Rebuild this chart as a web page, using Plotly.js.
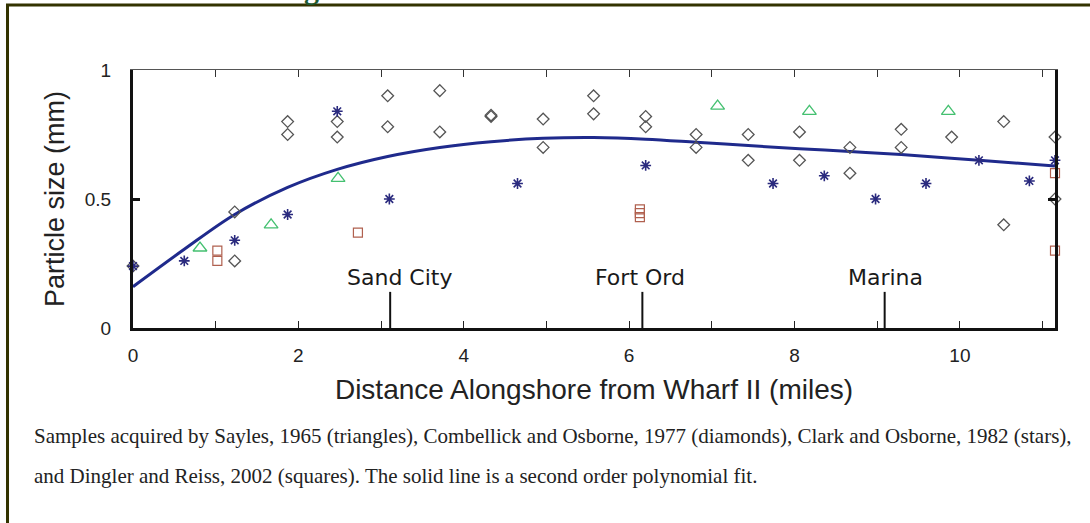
<!DOCTYPE html>
<html>
<head>
<meta charset="utf-8">
<script src="https://cdn.plot.ly/plotly-3.0.1.min.js"></script>
<style>
  html, body { margin: 0; padding: 0; background: #fff; }
  #chart { width: 1090px; height: 523px; }
</style>
</head>
<body>
<div id="chart"></div>
<script>
// ---- Data ----
// Sayles, 1965 (triangles)
const triX = [0.81, 1.67, 2.48, 7.07, 8.18, 9.86];
const triY = [0.31, 0.40, 0.58, 0.86, 0.84, 0.84];

// Combellick and Osborne, 1977 (diamonds)
const diaX = [0, 1.23, 1.23, 1.87, 1.87, 2.47, 2.47, 3.08, 3.08, 3.71, 3.71, 4.33, 4.33, 4.96, 4.96, 5.57, 5.57,
              6.20, 6.20, 6.81, 6.81, 7.44, 7.44, 8.06, 8.06, 8.67, 8.67, 9.29, 9.29, 9.90, 10.53, 10.53, 11.15, 11.15];
const diaY = [0.24, 0.45, 0.26, 0.80, 0.75, 0.80, 0.74, 0.90, 0.78, 0.92, 0.76, 0.82, 0.825, 0.81, 0.70, 0.90, 0.83,
              0.82, 0.78, 0.75, 0.70, 0.75, 0.65, 0.76, 0.65, 0.70, 0.60, 0.77, 0.70, 0.74, 0.80, 0.40, 0.74, 0.50];

// Clark and Osborne, 1982 (stars)
const starX = [0, 0.62, 1.23, 1.87, 2.47, 3.10, 4.65, 6.20, 7.74, 8.36, 8.98, 9.59, 10.23, 10.84, 11.15];
const starY = [0.24, 0.26, 0.34, 0.44, 0.84, 0.50, 0.56, 0.63, 0.56, 0.59, 0.50, 0.56, 0.65, 0.57, 0.65];

// Dingler and Reiss, 2002 (squares)
const sqX = [1.02, 1.02, 2.72, 6.13, 6.13, 6.13, 11.15, 11.15];
const sqY = [0.30, 0.26, 0.37, 0.43, 0.445, 0.46, 0.60, 0.30];

// Second order polynomial fit
const fitX = [0, 0.62, 1.23, 1.87, 2.47, 3.08, 3.71, 4.33, 4.96, 5.57, 6.20, 6.81, 7.44, 8.06, 8.67, 9.29, 10.23, 11.15];
const fitY = [0.16, 0.305, 0.44, 0.545, 0.615, 0.665, 0.70, 0.722, 0.735, 0.738, 0.732, 0.72, 0.707, 0.695, 0.684, 0.672, 0.65, 0.628];

// Landmarks along the shore
const landmarkNames = ['Sand City', 'Fort Ord', 'Marina'];
const landmarkX = [3.11, 6.16, 9.09];

// Axis ticks
const xTickVals = [0, 1, 2, 3, 4, 5, 6, 7, 8, 9, 10, 11];
const xTickText = ['0', '', '2', '', '4', '', '6', '', '8', '', '10', ''];
const yTickVals = [0, 0.5, 1];
const yTickText = ['0', '0.5', '1'];

const captionLines = [
  'Samples acquired by Sayles, 1965 (triangles), Combellick and Osborne, 1977 (diamonds), Clark and Osborne, 1982 (stars),',
  'and Dingler and Reiss, 2002 (squares). The solid line is a second order polynomial fit.'
];

// ---- Build chart ----
const SANS = 'Liberation Sans, Arial, sans-serif';

const lmLineX = [], lmLineY = [];
landmarkX.forEach(v => { lmLineX.push(v, v, null); lmLineY.push(0, 0.14, null); });

const traces = [
  { x: lmLineX, y: lmLineY, mode: 'lines', line: { color: '#111', width: 2 }, hoverinfo: 'skip', showlegend: false },
  { x: fitX, y: fitY, mode: 'lines', line: { color: '#1f2a8c', width: 3, shape: 'spline', smoothing: 1 }, showlegend: false },
  { x: diaX, y: diaY, mode: 'markers', cliponaxis: false,
    marker: { symbol: 'diamond-open', size: 9, color: '#555', line: { width: 1.3, color: '#555' } }, showlegend: false },
  { x: starX, y: starY, mode: 'markers', cliponaxis: false,
    marker: { symbol: 'asterisk-open', size: 9, color: '#2a2a7e', line: { width: 1.6, color: '#2a2a7e' } }, showlegend: false },
  { x: triX, y: triY, mode: 'markers', cliponaxis: false,
    marker: { symbol: 'triangle-up-open', size: 12, color: '#44c070', line: { width: 1.3, color: '#44c070' } }, showlegend: false },
  { x: sqX, y: sqY, mode: 'markers', cliponaxis: false,
    marker: { symbol: 'square-open', size: 9, color: '#b0604f', line: { width: 1.2, color: '#b0604f' } }, showlegend: false },
  // dummy trace to activate top axis
  { x: [0], y: [0], xaxis: 'x2', mode: 'markers', marker: { opacity: 0 }, hoverinfo: 'skip', showlegend: false }
];

const PL = 133, PR = 1055, PT = 70, PB = 328;
const pxToPaperX = px => (px - PL) / (PR - PL);
const pxToPaperY = py => (PB - py) / (PB - PT);

const annotations = [];
landmarkNames.forEach((name, i) => {
  annotations.push({
    x: landmarkX[i], y: 0.195, xref: 'x', yref: 'y', text: name, showarrow: false,
    xshift: [9, -2, 1][i],
    font: { family: 'DejaVu Sans, Verdana, sans-serif', size: 22, color: '#1a1a1a' }
  });
});
captionLines.forEach((line, i) => {
  annotations.push({
    x: pxToPaperX(32), y: pxToPaperY([436, 476][i]), xref: 'paper', yref: 'paper',
    xanchor: 'left', yanchor: 'middle', text: line, showarrow: false,
    font: { family: 'Liberation Serif, Times New Roman, serif', size: 21, color: '#222' }
  });
});
// fragment of the cut-off page heading above the frame
annotations.push({
  x: pxToPaperX(311), y: pxToPaperY(7), xref: 'paper', yref: 'paper', xanchor: 'center', yanchor: 'bottom',
  text: 'g', showarrow: false,
  font: { family: 'Liberation Serif, serif', size: 30, color: '#1e5a32', weight: 'bold' }
});

const layout = {
  width: 1090, height: 523,
  margin: { l: PL, r: 1090 - PR, t: PT, b: 523 - PB, pad: 0 },
  paper_bgcolor: '#fff', plot_bgcolor: '#fff',
  showlegend: false,
  xaxis: {
    range: [0, 11.15], tickvals: xTickVals, ticktext: xTickText,
    ticks: 'inside', ticklen: 7, tickwidth: 1, tickcolor: '#222',
    showline: true, linewidth: 3, linecolor: '#111', mirror: false,
    showgrid: false, zeroline: false, ticklabelstandoff: 8,
    tickfont: { family: SANS, size: 19, color: '#222' },
    title: { text: 'Distance Alongshore from Wharf II (miles)', standoff: 15,
             font: { family: SANS, size: 28, color: '#222' } }
  },
  xaxis2: {
    overlaying: 'x', side: 'top', range: [0, 11.15], tickvals: xTickVals,
    ticks: 'inside', ticklen: 7, tickwidth: 1, tickcolor: '#333',
    showline: true, linewidth: 1.5, linecolor: '#555', showticklabels: false,
    showgrid: false, zeroline: false
  },
  yaxis: {
    range: [0, 1], tickvals: yTickVals, ticktext: yTickText,
    ticks: 'inside', ticklen: 7, tickwidth: 3, tickcolor: '#111',
    showline: true, linewidth: 3, linecolor: '#111', mirror: 'ticks',
    showgrid: false, zeroline: false, ticklabelstandoff: 15,
    tickfont: { family: SANS, size: 19, color: '#222' },
    title: { text: 'Particle size (mm)', standoff: 13,
             font: { family: SANS, size: 27, color: '#222' } }
  },
  shapes: [
    { type: 'line', xref: 'paper', yref: 'paper', x0: pxToPaperX(7.5), x1: pxToPaperX(7.5), y0: pxToPaperY(5), y1: pxToPaperY(530),
      line: { color: '#333300', width: 3 } },
    { type: 'line', xref: 'paper', yref: 'paper', x0: pxToPaperX(6), x1: pxToPaperX(1100), y0: pxToPaperY(5), y1: pxToPaperY(5),
      line: { color: '#333300', width: 3 } }
  ],
  annotations: annotations
};

Plotly.newPlot('chart', traces, layout, { displayModeBar: false, staticPlot: true });
</script>
</body>
</html>
